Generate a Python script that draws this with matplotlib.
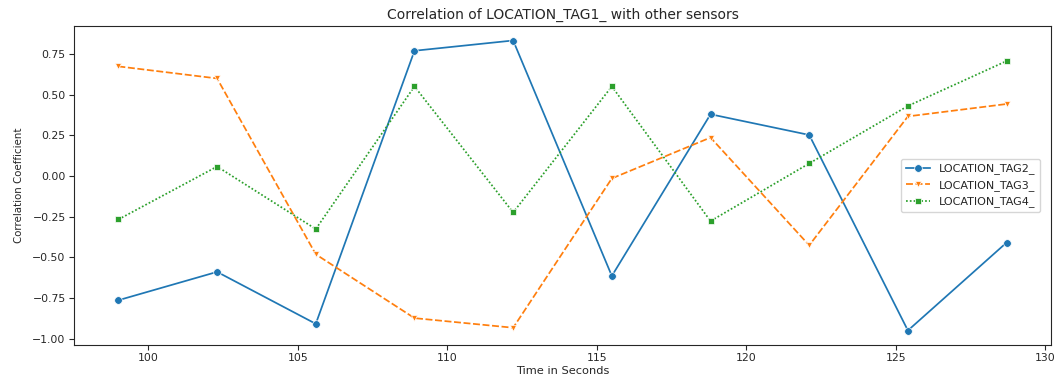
import matplotlib
matplotlib.use("Agg")
import matplotlib.pyplot as plt

time_s = [99.0, 102.3, 105.6, 108.9, 112.2, 115.5, 118.8, 122.1, 125.4, 128.7]
tag2 = [-0.763, -0.589, -0.908, 0.769, 0.832, -0.614, 0.379, 0.252, -0.949, -0.409]
tag3 = [0.673, 0.599, -0.481, -0.873, -0.932, -0.015, 0.236, -0.426, 0.366, 0.442]
tag4 = [-0.267, 0.058, -0.326, 0.550, -0.224, 0.550, -0.277, 0.077, 0.430, 0.706]
series_names = ["LOCATION_TAG2_", "LOCATION_TAG3_", "LOCATION_TAG4_"]

plt.rcParams.update({
    "font.family": "DejaVu Sans",
    "axes.edgecolor": "#262626",
    "text.color": "#262626",
    "axes.labelcolor": "#262626",
    "xtick.color": "#262626",
    "ytick.color": "#262626",
})

fig = plt.figure(figsize=(10.58, 3.79), dpi=100)
ax = fig.add_axes([74 / 1058, 1 - 345 / 379, (1051 - 74) / 1058, (345 - 26) / 379])

styles = [
    dict(color="#1f77b4", marker="o", linestyle="-", markersize=5.5),
    dict(color="#ff7f0e", marker="v", linestyle=(0, (4, 1.5)), markersize=5),
    dict(color="#2ca02c", marker="s", linestyle=(0, (1, 1.2)), markersize=4.5),
]
for vals, name, st in zip([tag2, tag3, tag4], series_names, styles):
    ax.plot(time_s, vals, label=name, linewidth=1.25, markeredgecolor="white",
            markeredgewidth=0.5, **st)

ax.set_title("Correlation of LOCATION_TAG1_ with other sensors", fontsize=10, pad=5)
ax.set_xlabel("Time in Seconds", fontsize=8.2, labelpad=2)
ax.set_ylabel("Correlation Coefficient", fontsize=7.4, labelpad=6)
ax.set_yticks([-1.0, -0.75, -0.5, -0.25, 0.0, 0.25, 0.5, 0.75])
ax.set_xticks([100, 105, 110, 115, 120, 125, 130])
ax.tick_params(labelsize=7.8, length=3.5, width=0.8, pad=2.5)
for s in ax.spines.values():
    s.set_linewidth(0.8)
ax.legend(loc="center right", fontsize=8, frameon=True, handlelength=2.2,
          borderaxespad=1.0)

fig.savefig("out.png", dpi=100)
